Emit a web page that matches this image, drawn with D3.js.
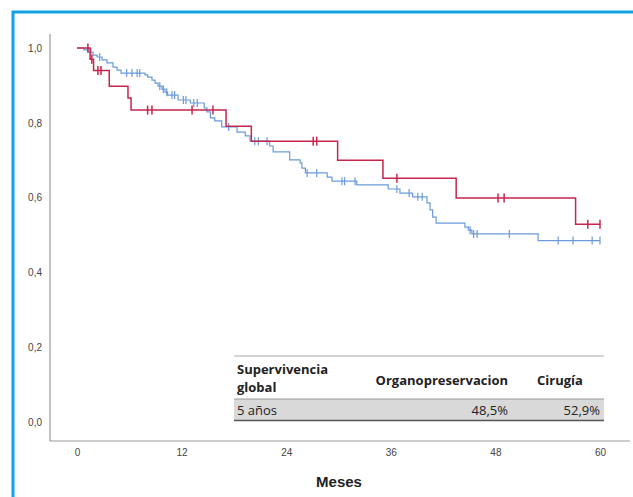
<!DOCTYPE html>
<html lang="es">
<head>
<meta charset="utf-8">
<script src="https://d3js.org/d3.v7.min.js"></script>
<style>
body { margin: 0; background: #fff; }
svg { display: block; }
.tick text { font-family: "Liberation Sans", Arial, sans-serif; font-size: 10px; fill: #444; }
.tbl { font-family: "Open Sans", sans-serif; font-size: 13px; fill: #222; }
</style>
</head>
<body>
<div id="chart"></div>
<script>
// Kaplan-Meier steps (months, survival)
var blueTimes = [0, 0.8, 1.26, 1.84, 2.3, 2.87, 3.44, 4.13, 4.59, 5.05, 7.8, 8.1, 8.6, 8.95, 9.3, 9.75, 10.1, 10.4, 11.6, 13.0,
  14.6, 14.9, 15.3, 15.8, 16.6, 18.35, 19.3, 19.85, 22.1, 22.5, 24.4, 25.6, 25.8, 26.2, 28.7, 29.25, 32.1, 35.7, 37.05, 38.5,
  40.15, 40.5, 40.8, 41.2, 44.5, 44.9, 45.3, 52.9, 60];
var blueSurv = [1, 0.995, 0.989, 0.981, 0.976, 0.968, 0.960, 0.949, 0.941, 0.933, 0.928, 0.922, 0.914, 0.906, 0.898, 0.890, 0.882, 0.874, 0.861, 0.853,
  0.840, 0.829, 0.813, 0.805, 0.789, 0.775, 0.765, 0.751, 0.738, 0.722, 0.701, 0.693, 0.679, 0.666, 0.655, 0.644, 0.634, 0.623, 0.612, 0.602,
  0.586, 0.567, 0.548, 0.532, 0.521, 0.513, 0.503, 0.485, 0.485];
var blueCensored = [1.6, 2.6, 5.7, 6.3, 6.9, 7.2, 9.5, 9.9, 10.3, 10.9, 11.2, 12.2, 12.5, 13.4, 13.8, 17.4, 20.4, 20.8, 21.8,
  26.4, 27.5, 30.4, 30.7, 31.9, 36.7, 38.1, 39.1, 39.6, 45.1, 45.5, 45.9, 49.6, 55.2, 56.9, 59.1, 60];

var redTimes = [0, 1.5, 1.9, 3.7, 5.85, 6.2, 17.1, 20.0, 29.9, 35.1, 43.5, 57.2, 60];
var redSurv = [1, 0.970, 0.940, 0.898, 0.866, 0.834, 0.791, 0.751, 0.700, 0.652, 0.599, 0.529, 0.529];
var redCensored = [1.25, 1.7, 2.4, 2.75, 8.1, 8.6, 13.2, 15.6, 27.1, 27.5, 36.7, 48.3, 49.0, 58.6, 60];

var xTicks = [0, 12, 24, 36, 48, 60];
var yTicks = [0, 0.2, 0.4, 0.6, 0.8, 1.0];

var tableHead = ["Supervivencia", "global", "Organopreservacion", "Cirugía"];
var tableRow = ["5 años", "48,5%", "52,9%"];

var width = 633, height = 497;
var blueColor = "#6b9bd9", redColor = "#c9244c";

var svg = d3.select("#chart").append("svg")
  .attr("width", width)
  .attr("height", height);

// outer blue frame (runs off the right and bottom edge)
svg.append("rect")
  .attr("x", 13).attr("y", 12)
  .attr("width", 700).attr("height", 600)
  .attr("fill", "none")
  .attr("stroke", "#12a2e6")
  .attr("stroke-width", 3);

var x = d3.scaleLinear().domain([0, 60]).range([77, 600]);
var y = d3.scaleLinear().domain([0, 1]).range([422, 48]);

// plot frame: left and bottom only
svg.append("path")
  .attr("d", "M50,34V441H630")
  .attr("fill", "none")
  .attr("stroke", "#999")
  .attr("stroke-width", 1.2);

var comma = function(d) { return d3.format(".1f")(d).replace(".", ","); };

svg.append("g")
  .attr("transform", "translate(50,0)")
  .call(d3.axisLeft(y).tickValues(yTicks).tickSize(0).tickPadding(8).tickFormat(comma))
  .call(function(g) { g.select(".domain").remove(); });

svg.append("g")
  .attr("transform", "translate(0,441)")
  .call(d3.axisBottom(x).tickValues(xTicks).tickSize(0).tickPadding(8).tickFormat(d3.format("d")))
  .call(function(g) { g.select(".domain").remove(); });

svg.append("text")
  .attr("x", 339).attr("y", 487)
  .attr("text-anchor", "middle")
  .style("font-family", "'Liberation Sans', Arial, sans-serif")
  .style("font-size", "15px")
  .style("font-weight", "bold")
  .attr("fill", "#222")
  .text("Meses");

// survival at time t from the step arrays
function survAt(times, surv, t) {
  var i = d3.bisectRight(times, t) - 1;
  return surv[Math.max(0, i)];
}

var line = d3.line()
  .x(function(d) { return x(d[0]); })
  .y(function(d) { return y(d[1]); })
  .curve(d3.curveStepAfter);

function drawCurve(times, surv, censored, color, sw, half) {
  svg.append("path")
    .datum(times.map(function(t, i) { return [t, surv[i]]; }))
    .attr("d", line)
    .attr("fill", "none")
    .attr("stroke", color)
    .attr("stroke-width", sw);

  svg.append("g").selectAll("line")
    .data(censored)
    .enter().append("line")
    .attr("x1", function(d) { return x(d); })
    .attr("x2", function(d) { return x(d); })
    .attr("y1", function(d) { return y(survAt(times, surv, d)) - half; })
    .attr("y2", function(d) { return y(survAt(times, surv, d)) + half; })
    .attr("stroke", color)
    .attr("stroke-width", sw);
}

drawCurve(blueTimes, blueSurv, blueCensored, blueColor, 1.2, 4);
drawCurve(redTimes, redSurv, redCensored, redColor, 1.5, 4.5);

// summary table
var tb = svg.append("g");
tb.append("rect").attr("x", 234).attr("y", 399).attr("width", 370).attr("height", 21).attr("fill", "#d9d9d9");
tb.append("line").attr("x1", 234).attr("x2", 604).attr("y1", 356).attr("y2", 356).attr("stroke", "#aaa");
tb.append("line").attr("x1", 234).attr("x2", 604).attr("y1", 399).attr("y2", 399).attr("stroke", "#999");
tb.append("line").attr("x1", 234).attr("x2", 604).attr("y1", 420.5).attr("y2", 420.5).attr("stroke", "#555").attr("stroke-width", 1.5);

tb.append("text").attr("class", "tbl").attr("x", 237).attr("y", 374).style("font-weight", "bold").text(tableHead[0]);
tb.append("text").attr("class", "tbl").attr("x", 237).attr("y", 392).style("font-weight", "bold").text(tableHead[1]);
tb.append("text").attr("class", "tbl").attr("x", 508).attr("y", 385).attr("text-anchor", "end").style("font-weight", "bold").text(tableHead[2]);
tb.append("text").attr("class", "tbl").attr("x", 537).attr("y", 385).style("font-weight", "bold").text(tableHead[3]);

tb.append("text").attr("class", "tbl").attr("x", 237).attr("y", 415).text(tableRow[0]);
tb.append("text").attr("class", "tbl").attr("x", 508).attr("y", 415).attr("text-anchor", "end").text(tableRow[1]);
tb.append("text").attr("class", "tbl").attr("x", 600).attr("y", 415).attr("text-anchor", "end").text(tableRow[2]);
</script>
</body>
</html>
